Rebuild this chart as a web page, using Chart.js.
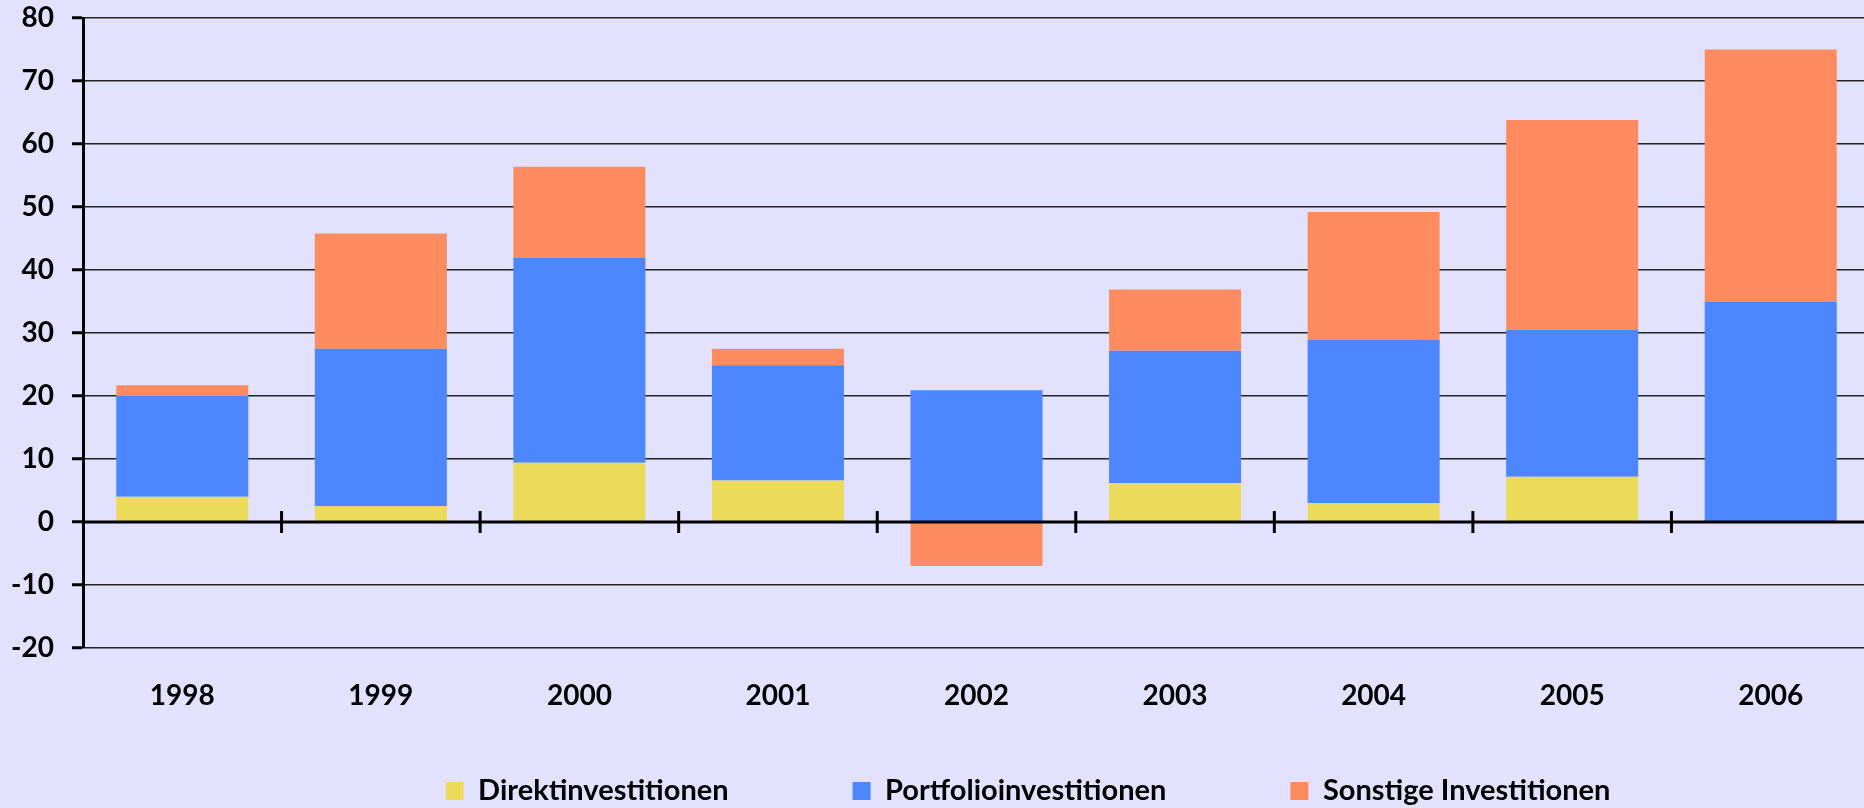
<!DOCTYPE html>
<html>
<head>
<meta charset="utf-8">
<script src="https://cdn.jsdelivr.net/npm/chart.js@4/dist/chart.umd.min.js"></script>
<style>
  html, body { margin: 0; padding: 0; background: #e2e2ff; overflow: hidden; }
  #wrap { width: 1872px; height: 808px; position: relative; }
</style>
</head>
<body>
<div id="wrap"><canvas id="chart"></canvas></div>
<script>
// ====== DATA ======
const jahre = ["1998", "1999", "2000", "2001", "2002", "2003", "2004", "2005", "2006"];
const direkt = [4.0, 2.5, 9.4, 6.6, 0, 6.2, 3.0, 7.2, 0];
const portfolio = [16.0, 25.0, 32.5, 18.3, 20.9, 21.0, 25.9, 23.3, 35.0];
const sonstige = [1.7, 18.3, 14.5, 2.6, -7.0, 9.7, 20.3, 33.3, 40.0];

const FONT = "Lato, 'DejaVu Sans', sans-serif";
const LEGENDE_SCHRIFT = 29;

// ====== NULLLINIE + TRENNSTRICHE ======
const nullLinie = {
  id: "nullLinie",
  afterDatasetsDraw(chart) {
    const { ctx, scales: { x, y }, chartArea } = chart;
    const y0 = y.getPixelForValue(0);
    ctx.save();
    ctx.strokeStyle = "#000";
    ctx.lineWidth = 3;
    ctx.beginPath();
    ctx.moveTo(chartArea.left, y0);
    ctx.lineTo(chartArea.right, y0);
    ctx.stroke();
    for (let i = 1; i < jahre.length; i++) {
      const xm = (x.getPixelForValue(i - 1) + x.getPixelForValue(i)) / 2;
      ctx.beginPath();
      ctx.moveTo(xm, y0 - 11);
      ctx.lineTo(xm, y0 + 11);
      ctx.stroke();
    }
    ctx.restore();
  },
};

// Legende an ihren Platz schieben (unten, etwas rechts der Mitte)
const legendePlatz = {
  id: "legendePlatz",
  afterLayout(chart) {
    const lg = chart.legend;
    lg.top = 791 - lg.options.labels.padding - LEGENDE_SCHRIFT / 2;
    lg.bottom = chart.height;
    lg.height = lg.bottom - lg.top;
    lg.left += 93;
    lg.right += 93;
  },
};

new Chart(document.getElementById("chart"), {
  type: "bar",
  data: {
    labels: jahre,
    datasets: [
      { label: "Direktinvestitionen", data: direkt, backgroundColor: "#ecdb5a" },
      { label: "Portfolioinvestitionen", data: portfolio, backgroundColor: "#4d87ff" },
      { label: "Sonstige Investitionen", data: sonstige, backgroundColor: "#ff8c61" },
    ],
  },
  options: {
    responsive: true,
    maintainAspectRatio: false,
    animation: false,
    layout: { padding: { top: 0, right: 2, left: 0, bottom: 0 } },
    datasets: { bar: { barPercentage: 0.665, categoryPercentage: 1, borderWidth: 0 } },
    scales: {
      x: {
        stacked: true,
        afterFit: (s) => { s.height = 120; },
        grid: { display: false, drawTicks: false },
        border: { display: false },
        ticks: { color: "#000", padding: 31, font: { family: FONT, size: 28, weight: "bold" } },
      },
      y: {
        stacked: true,
        min: -20,
        max: 80,
        afterFit: (s) => { s.width = 83; s.paddingTop = 18; s.paddingBottom = 18; },
        ticks: { stepSize: 10, color: "#000", padding: 18, font: { family: FONT, size: 28, weight: "bold" } },
        grid: { color: "#222", lineWidth: 1.5, tickColor: "#000", tickWidth: 3, tickLength: 11 },
        border: { color: "#000", width: 3 },
      },
    },
    plugins: {
      tooltip: { enabled: false },
      legend: {
        position: "bottom",
        maxHeight: 40,
        labels: {
          color: "#000",
          boxWidth: 18,
          boxHeight: 18,
          padding: 124,
          font: { family: FONT, size: LEGENDE_SCHRIFT, weight: "bold" },
        },
      },
    },
  },
  plugins: [nullLinie, legendePlatz],
});
</script>
</body>
</html>
